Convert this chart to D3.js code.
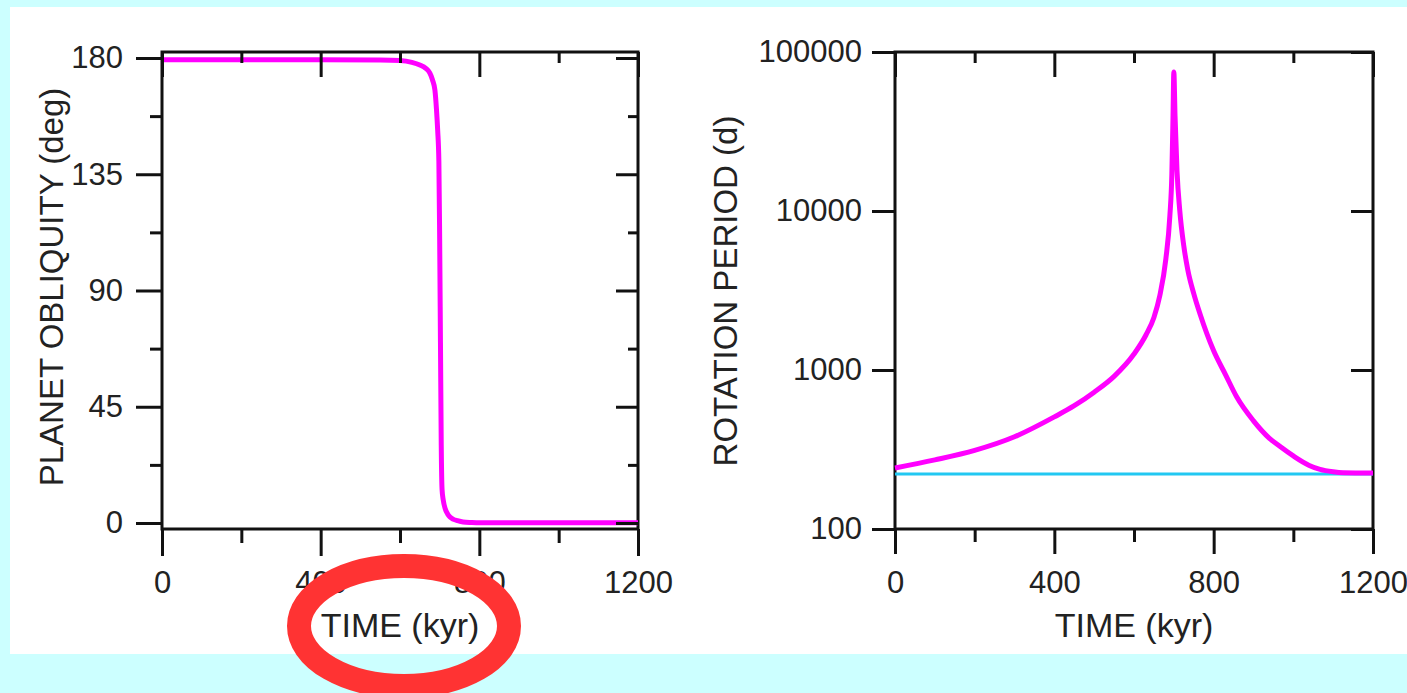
<!DOCTYPE html>
<html>
<head>
<meta charset="utf-8">
<script src="https://cdn.jsdelivr.net/npm/d3@7"></script>
<style>
html,body{margin:0;padding:0;background:#ccffff;}
svg{display:block;}
</style>
</head>
<body>
<svg id="chart" width="1407" height="693"></svg>
<script>
// ---- data ----
const obliquityTime = [0, 200, 400, 550, 600, 630, 650, 665, 675, 682, 688, 692, 695, 698, 700, 702, 704, 706, 709, 714, 720, 726, 735, 745, 759, 780, 800, 900, 1000, 1100, 1200];
const obliquityDeg  = [179.3, 179.3, 179.3, 179.2, 179.0, 178.3, 177.3, 176.0, 174.2, 171.5, 167.6, 160, 152, 140, 110, 70, 30, 13, 8.9, 5.5, 3.5, 2.3, 1.4, 0.9, 0.4, 0.2, 0.1, 0.1, 0.05, 0.05, 0.05];

const rotationTime   = [0, 100, 200, 300, 400, 450, 500, 550, 600, 630, 650, 665, 680, 690, 695, 698, 700, 703, 708, 715, 725, 735, 750, 766, 800, 830, 858, 900, 940, 966, 1000, 1040, 1067, 1100, 1125, 1200];
const rotationPeriod = [242, 272, 312, 380, 507, 596, 725, 912, 1260, 1660, 2140, 2950, 5000, 9300, 17000, 40000, 74800, 39800, 17800, 10000, 6030, 4270, 3020, 2240, 1320, 933, 676, 479, 372, 331, 288, 251, 237, 229, 226, 225];

const synchronousPeriod = 222;

const timeTicks = [0, 400, 800, 1200];
const timeMinorTicks = [200, 600, 1000];
const obliquityTicks = [0, 45, 90, 135, 180];
const obliquityMinorTicks = [22.5, 67.5, 112.5, 157.5];
const periodTicks = [100, 1000, 10000, 100000];

const xTitle = "TIME (kyr)";
const obliquityTitle = "PLANET OBLIQUITY (deg)";
const periodTitle = "ROTATION PERIOD (d)";

// ---- drawing ----
const svg = d3.select("#chart");
const FONT = "'Liberation Sans', Arial, Helvetica, sans-serif";
const INK = "#111";
const TXT = "#222";

svg.append("rect").attr("x", 0).attr("y", 0).attr("width", 1407).attr("height", 693).attr("fill", "#ccffff");
svg.append("rect").attr("x", 10).attr("y", 7).attr("width", 1397).attr("height", 647).attr("fill", "#ffffff");

const plotTop = 52, plotBottom = 529;

function styleAxis(g, fontSize) {
  g.select(".domain").remove();
  g.attr("font-family", FONT).attr("font-size", fontSize);
  g.selectAll("line").attr("stroke", INK).attr("stroke-width", 3);
  g.selectAll("text").attr("fill", TXT);
}

function addAxis(axisFn, scale, ticks, size, pad, labels, tx, ty) {
  const ax = axisFn(scale).tickValues(ticks).tickSize(size).tickSizeOuter(0).tickPadding(pad);
  if (!labels) ax.tickFormat(() => "");
  else ax.tickFormat(d3.format("d"));
  const g = svg.append("g").attr("transform", `translate(${tx},${ty})`).call(ax);
  styleAxis(g, 31);
  return g;
}

// ---------- Left panel: obliquity ----------
const xL = d3.scaleLinear().domain([0, 1200]).range([162, 638]);
const yL = d3.scaleLinear().domain([0, 180]).range([523, 58]);

svg.append("rect").attr("x", 162).attr("y", plotTop).attr("width", 638 - 162).attr("height", plotBottom - plotTop)
  .attr("fill", "none").attr("stroke", INK).attr("stroke-width", 3);

const obData = obliquityTime.map((t, i) => [t, obliquityDeg[i]]);
svg.append("path").datum(obData)
  .attr("fill", "none").attr("stroke", "#ff00ff").attr("stroke-width", 5).attr("stroke-linejoin", "round")
  .attr("d", d3.line().x(d => xL(d[0])).y(d => yL(d[1])).curve(d3.curveMonotoneX));

// bottom
addAxis(d3.axisBottom, xL, timeTicks, 27, 15, true, 0, plotBottom);
addAxis(d3.axisBottom, xL, timeMinorTicks, 14, 0, false, 0, plotBottom);
// top (inward)
addAxis(d3.axisBottom, xL, timeTicks, 25, 0, false, 0, plotTop);
addAxis(d3.axisBottom, xL, timeMinorTicks, 11, 0, false, 0, plotTop);
// left
addAxis(d3.axisLeft, yL, obliquityTicks, 26, 13, true, 162, 0);
addAxis(d3.axisLeft, yL, obliquityMinorTicks, 12, 0, false, 162, 0);
// right (inward)
addAxis(d3.axisLeft, yL, obliquityTicks, 22, 0, false, 638, 0);
addAxis(d3.axisLeft, yL, obliquityMinorTicks, 10, 0, false, 638, 0);

svg.append("text").attr("x", (162 + 638) / 2).attr("y", 637).attr("text-anchor", "middle")
  .attr("font-family", FONT).attr("font-size", 34).attr("fill", TXT).text(xTitle);
svg.append("text").attr("transform", `translate(63,287) rotate(-90)`).attr("text-anchor", "middle")
  .attr("font-family", FONT).attr("font-size", 33).attr("fill", TXT).text(obliquityTitle);

// ---------- Right panel: rotation period ----------
const xR = d3.scaleLinear().domain([0, 1200]).range([895, 1373]);
const yR = d3.scaleLog().domain([100, 100000]).range([plotBottom, plotTop]);

svg.append("rect").attr("x", 895).attr("y", plotTop).attr("width", 1373 - 895).attr("height", plotBottom - plotTop)
  .attr("fill", "none").attr("stroke", INK).attr("stroke-width", 3);

svg.append("line")
  .attr("x1", xR(0)).attr("x2", xR(1200)).attr("y1", yR(synchronousPeriod)).attr("y2", yR(synchronousPeriod))
  .attr("stroke", "#22c8f2").attr("stroke-width", 3);

const rotData = rotationTime.map((t, i) => [t, rotationPeriod[i]]);
svg.append("path").datum(rotData)
  .attr("fill", "none").attr("stroke", "#ff00ff").attr("stroke-width", 5).attr("stroke-linejoin", "round")
  .attr("d", d3.line().x(d => xR(d[0])).y(d => yR(d[1])).curve(d3.curveMonotoneX));

addAxis(d3.axisBottom, xR, timeTicks, 25, 17, true, 0, plotBottom);
addAxis(d3.axisBottom, xR, timeMinorTicks, 13, 0, false, 0, plotBottom);
addAxis(d3.axisBottom, xR, timeTicks, 25, 0, false, 0, plotTop);
addAxis(d3.axisBottom, xR, timeMinorTicks, 11, 0, false, 0, plotTop);
addAxis(d3.axisLeft, yR, periodTicks, 23, 10, true, 895, 0);
addAxis(d3.axisLeft, yR, periodTicks, 22, 0, false, 1373, 0);

svg.append("text").attr("x", (895 + 1373) / 2).attr("y", 637).attr("text-anchor", "middle")
  .attr("font-family", FONT).attr("font-size", 34).attr("fill", TXT).text(xTitle);
svg.append("text").attr("transform", `translate(737,291) rotate(-90)`).attr("text-anchor", "middle")
  .attr("font-family", FONT).attr("font-size", 33).attr("fill", TXT).text(periodTitle);

// ---------- red annotation ellipse ----------
svg.append("ellipse").attr("cx", 404).attr("cy", 626).attr("rx", 105).attr("ry", 60)
  .attr("fill", "none").attr("stroke", "#ff3333").attr("stroke-width", 24);
</script>
</body>
</html>
